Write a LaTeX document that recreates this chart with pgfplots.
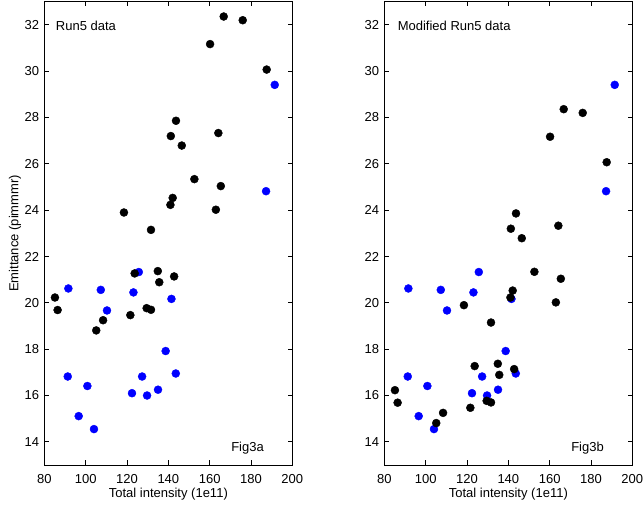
\documentclass[border=0pt]{standalone}
\usepackage{fontspec}
\setmainfont{Liberation Sans}
\usepackage{pgfplots}
\pgfplotsset{compat=1.18}
\usepackage{pgfplotstable}
\definecolor{mblue}{RGB}{0,0,255}
\pgfplotstableread{
x y
191.5 29.41
187.3 24.82
125.7 21.33
91.6 20.62
107.3 20.56
123.1 20.45
141.5 20.17
110.3 19.67
138.7 17.92
91.3 16.82
127.3 16.82
143.6 16.95
100.8 16.41
122.4 16.10
129.7 16.00
135.0 16.25
96.6 15.11
104.0 14.55
}\bluedata
\pgfplotstableread{
x y
166.8 32.36
176.0 32.20
160.2 31.17
187.6 30.07
143.7 27.86
141.2 27.20
146.5 26.79
164.2 27.33
152.6 25.34
165.4 25.04
142.1 24.53
141.0 24.23
163.0 24.02
118.5 23.90
131.6 23.15
123.7 21.27
134.9 21.37
135.6 20.89
142.8 21.14
85.1 20.23
86.4 19.69
129.5 19.77
131.6 19.70
121.6 19.47
108.4 19.25
105.1 18.81
}\blackA
\pgfplotstableread{
x y
166.8 28.36
176.0 28.20
160.2 27.17
187.6 26.07
143.7 23.86
141.2 23.20
146.5 22.79
164.2 23.33
152.6 21.34
165.4 21.04
142.1 20.53
141.0 20.23
163.0 20.02
118.5 19.90
131.6 19.15
123.7 17.27
134.9 17.37
135.6 16.89
142.8 17.14
85.1 16.23
86.4 15.69
129.5 15.77
131.6 15.70
121.6 15.47
108.4 15.25
105.1 14.81
}\blackB
\pgfplotsset{
  myax/.style={
    scale only axis, width=247.9bp, height=463.3bp,
    xmin=80, xmax=200, ymin=13, ymax=33,
    xtick={80,100,...,200}, ytick={14,16,...,32},
    tick align=inside, major tick length=4.5bp,
    axis line style={line width=0.9bp},
    every tick/.style={black, line width=0.9bp},
    /pgf/number format/assume math mode=true,
    tick label style={font=\fontsize{13bp}{15bp}\selectfont},
    label style={font=\fontsize{13bp}{15bp}\selectfont},
    xticklabel style={yshift=-4.6bp},
    yticklabel style={xshift=-0.7bp},
    xlabel={Total intensity (1e11)},
    xlabel style={at={(axis description cs:0.5,0)}, anchor=base, yshift=-32bp},
    clip=false,
  },
  bl/.style={only marks, mark=*, mark size=4bp, mark options={fill=mblue, draw=mblue}},
  bk/.style={only marks, mark=*, mark size=4bp, mark options={fill=black, draw=black}},
}
\begin{document}
\fontsize{13bp}{15bp}\selectfont
\begin{tikzpicture}
\path[use as bounding box] (-44.4bp,-44bp) rectangle (599.6bp,465bp);
\begin{axis}[myax,
  ylabel={Emittance (pimmmr)},
  ylabel style={at={(axis description cs:-0.1186,0.5)}, anchor=center}]
\addplot[bl] table {\bluedata};
\addplot[bk] table {\blackA};
\node[anchor=base west, inner sep=0] at (axis cs:85.5,31.75) {Run5 data};
\node[anchor=base east, inner sep=0] at (axis cs:186.3,13.58) {Fig3a};
\end{axis}
\begin{axis}[myax, at={(340bp,0)}]
\addplot[bl] table {\bluedata};
\addplot[bk] table {\blackB};
\node[anchor=base west, inner sep=0] at (axis cs:86.4,31.75) {Modified Run5 data};
\node[anchor=base east, inner sep=0] at (axis cs:186.3,13.58) {Fig3b};
\end{axis}
\end{tikzpicture}
\end{document}
